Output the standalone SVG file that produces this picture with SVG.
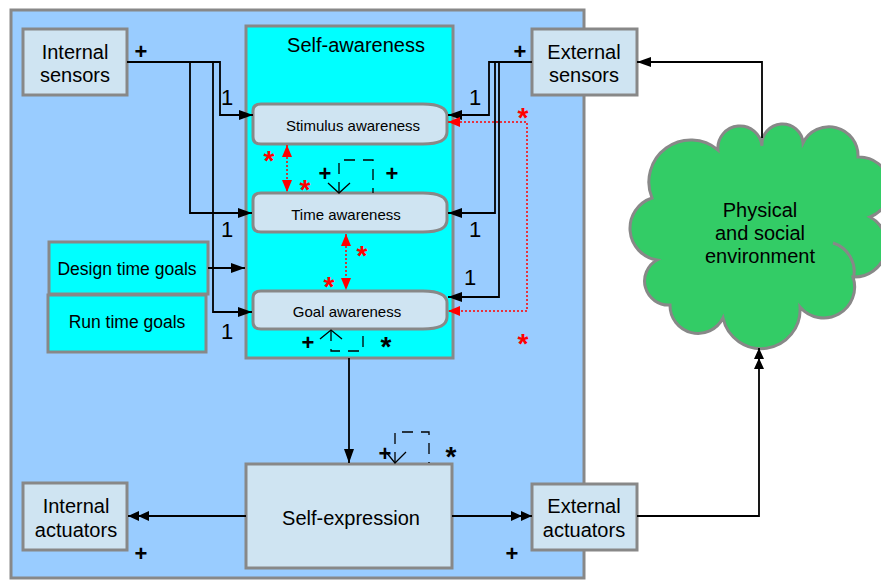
<svg xmlns="http://www.w3.org/2000/svg" width="881" height="580" viewBox="0 0 881 580">
<defs>
<style>
text{font-family:"Liberation Sans",Arial,sans-serif;fill:#000}
.box{fill:#cfe4f2;stroke:#888;stroke-width:3}
.cy{fill:#00ffff;stroke:#888;stroke-width:3}
.ln{fill:none;stroke:#000;stroke-width:1.8}
.rd{fill:none;stroke:#f00;stroke-width:1.5;stroke-dasharray:2 2}
.ds{fill:none;stroke:#000;stroke-width:1.3;stroke-dasharray:11 8}
.v{fill:none;stroke:#000;stroke-width:1.3}
.lbl{font-size:20px;text-anchor:middle}
.sm{font-size:15px;text-anchor:middle}
.pl{font-size:22px;font-weight:bold;text-anchor:middle}
.one{font-size:22px;text-anchor:middle}
.rs{font-size:28px;font-weight:bold;text-anchor:middle;fill:#f00}
.bs{font-size:28px;font-weight:bold;text-anchor:middle}
</style>
<marker id="a" markerUnits="userSpaceOnUse" markerWidth="14" markerHeight="10" refX="14" refY="5" orient="auto"><path d="M0,0 L14,5 L0,10 z" fill="#000"/></marker>
<marker id="a2" markerUnits="userSpaceOnUse" markerWidth="21" markerHeight="10" refX="21" refY="5" orient="auto"><path d="M0,0 L11,5 L0,10 z M10,0 L21,5 L10,10 z" fill="#000"/></marker>
<marker id="r" markerUnits="userSpaceOnUse" markerWidth="12" markerHeight="10" refX="12" refY="5" orient="auto-start-reverse"><path d="M0,0 L12,5 L0,10 z" fill="#f00"/></marker>
</defs>
<rect x="11" y="10" width="573" height="568" fill="#99ccff" stroke="#888" stroke-width="3"/>

<g id="self-awareness"><rect class="cy" x="246" y="26" width="207" height="332"/><text class="lbl" x="356" y="52">Self-awareness</text></g>
<g id="internal-sensors"><rect class="box" x="23" y="29" width="104" height="66"/><text class="lbl" x="75" y="59">Internal</text><text class="lbl" x="75" y="82">sensors</text></g>
<g id="external-sensors"><rect class="box" x="532" y="29" width="105" height="66"/><text class="lbl" x="584" y="59">External</text><text class="lbl" x="584" y="82">sensors</text></g>
<g id="stimulus-awareness"><path class="box" d="M261 104 H423 Q447 104 447 116 V132 Q447 144 423 144 H261 Q253 144 253 137 V111 Q253 104 261 104 Z"/><text class="sm" x="353" y="131">Stimulus awareness</text></g>
<g id="time-awareness"><path class="box" d="M261 193 H423 Q447 193 447 205 V220 Q447 232 423 232 H261 Q253 232 253 225 V200 Q253 193 261 193 Z"/><text class="sm" x="346" y="220">Time awareness</text></g>
<g id="goal-awareness"><path class="box" d="M261 291 H423 Q447 291 447 303 V317 Q447 329 423 329 H261 Q253 329 253 322 V298 Q253 291 261 291 Z"/><text class="sm" x="347" y="317">Goal awareness</text></g>
<g id="design-time-goals"><rect class="cy" x="49" y="242" width="159" height="52"/><text x="127" y="275" font-size="17.5" text-anchor="middle">Design time goals</text></g>
<g id="run-time-goals"><rect class="cy" x="48" y="295" width="158" height="57"/><text x="127" y="328" font-size="17.5" text-anchor="middle">Run time goals</text></g>
<g id="self-expression"><rect class="box" x="246" y="464" width="206" height="104"/><text class="lbl" x="351" y="525">Self-expression</text></g>
<g id="internal-actuators"><rect class="box" x="23" y="483" width="104" height="67"/><text class="lbl" x="76" y="513">Internal</text><text class="lbl" x="76" y="537">actuators</text></g>
<g id="external-actuators"><rect class="box" x="532" y="484" width="105" height="66"/><text class="lbl" x="584" y="513">External</text><text class="lbl" x="584" y="537">actuators</text></g>
<g id="environment">
<path d="M652 198 A42 42 0 0 1 718 150 A22 22 0 0 1 762 146 A20.5 20.5 0 0 1 803 143 A29 29 0 0 1 858 157 A31 31 0 0 1 870 217 A32 32 0 0 1 853 277 A31 31 0 0 1 800 307 A39 39 0 0 1 723 318 A28 28 0 0 1 670 305 A24 24 0 0 1 657 260 A32 32 0 0 1 652 198 Z" fill="#33cc66" stroke="#888" stroke-width="3"/>
<path d="M833 243 A30 30 0 0 1 853 280" fill="none" stroke="#888" stroke-width="3"/>
<text class="lbl" x="760" y="217">Physical</text><text class="lbl" x="760" y="240">and social</text><text class="lbl" x="760" y="263">environment</text>
</g>

<g id="connectors">
<path class="ln" d="M127 62 H220 V115 H253" marker-end="url(#a)"/>
<path class="ln" d="M190 62 V213 H252" marker-end="url(#a)"/>
<path class="ln" d="M213 62 V312 H252" marker-end="url(#a)"/>
<path class="ln" d="M208 268 H245" marker-end="url(#a)"/>
<path class="ln" d="M532 62 H489 V115 H448" marker-end="url(#a)"/>
<path class="ln" d="M495 62 V213 H448" marker-end="url(#a)"/>
<path class="ln" d="M499 62 V297 H448" marker-end="url(#a)"/>
<path class="rd" d="M448 122 H527 V311 H448" marker-start="url(#r)" marker-end="url(#r)"/>
<path class="rd" d="M287 145 V192" marker-start="url(#r)" marker-end="url(#r)"/>
<path class="rd" d="M346 234 V290" marker-start="url(#r)" marker-end="url(#r)"/>
<path class="ln" d="M349 358 V463" marker-end="url(#a)"/>
<path class="ln" d="M246 516 H128" marker-end="url(#a2)"/>
<path class="ln" d="M452 516 H532" marker-end="url(#a2)"/>
<path class="ln" d="M637 516 H759 V348" marker-end="url(#a2)"/>
<path class="ln" d="M762 138 V62 H637" marker-end="url(#a)"/>
<path class="ds" d="M339 193 V160 H373 V193"/>
<path class="v" d="M328 183 L339 193 L350 183"/>
<path class="ds" d="M331 330 V351 H363 V330"/>
<path class="v" d="M320 339 L331 330 L342 339"/>
<path class="ds" d="M395 463 V432 H429 V463"/>
<path class="v" d="M386 452 L395 463 L406 452"/>
</g>

<g id="labels">
<text class="pl" x="141" y="59">+</text>
<text class="pl" x="520" y="59">+</text>
<text class="pl" x="325" y="181">+</text>
<text class="pl" x="392" y="181">+</text>
<text class="pl" x="308" y="350">+</text>
<text class="pl" x="385" y="461">+</text>
<text class="pl" x="141" y="561">+</text>
<text class="pl" x="512" y="561">+</text>
<text class="one" x="227" y="105">1</text>
<text class="one" x="227" y="237">1</text>
<text class="one" x="227" y="339">1</text>
<text class="one" x="475" y="105">1</text>
<text class="one" x="475" y="237">1</text>
<text class="one" x="470" y="285">1</text>
<text class="rs" x="269" y="170">*</text>
<text class="rs" x="305" y="199">*</text>
<text class="rs" x="523" y="127">*</text>
<text class="rs" x="362" y="265">*</text>
<text class="rs" x="329" y="296">*</text>
<text class="rs" x="523" y="353">*</text>
<text class="bs" x="386" y="356">*</text>
<text class="bs" x="451" y="466">*</text>
</g>
</svg>
